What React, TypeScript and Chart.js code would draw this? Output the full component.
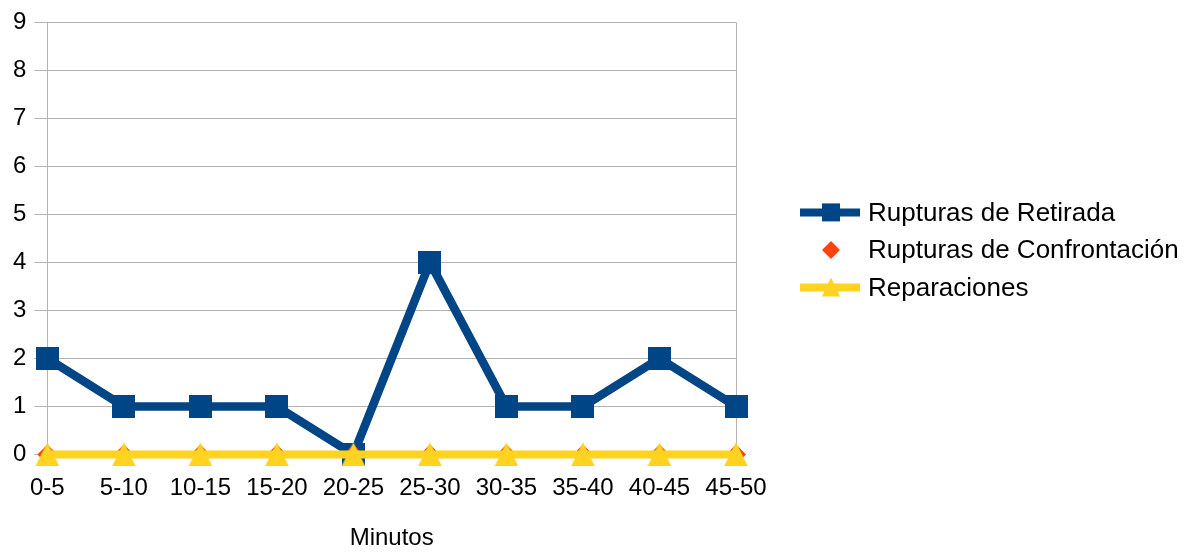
import React, { useEffect, useRef } from 'react';
import { Chart, registerables } from 'chart.js';

Chart.register(...registerables);

const categories = ['0-5', '5-10', '10-15', '15-20', '20-25', '25-30', '30-35', '35-40', '40-45', '45-50'];
const retirada = [2, 1, 1, 1, 0, 4, 1, 1, 2, 1];
const confrontacion = [0, 0, 0, 0, 0, 0, 0, 0, 0, 0];
const reparaciones = [0, 0, 0, 0, 0, 0, 0, 0, 0, 0];
const seriesNames = ['Rupturas de Retirada', 'Rupturas de Confrontación', 'Reparaciones'];
const seriesColors = ['#004586', '#ff420e', '#ffd320'];
const yMin = 0;
const yMax = 9;
const yStep = 1;
const xTitle = 'Minutos';

const FONT = '"Liberation Sans", Arial, sans-serif';
const GRID = '#b3b3b3';

function makeTriangle(size: number, color: string) {
  const c = document.createElement('canvas');
  c.width = size;
  c.height = size;
  const g = c.getContext('2d')!;
  g.fillStyle = color;
  g.beginPath();
  g.moveTo(size / 2, 0);
  g.lineTo(size, size);
  g.lineTo(0, size);
  g.closePath();
  g.fill();
  return c;
}

function makeSquare(size: number, color: string) {
  const c = document.createElement('canvas');
  c.width = size;
  c.height = size;
  const g = c.getContext('2d')!;
  g.fillStyle = color;
  g.fillRect(0, 0, size, size);
  return c;
}

const legendPlugin = {
  id: 'customLegend',
  afterDraw(chart: any) {
    const ctx: CanvasRenderingContext2D = chart.ctx;
    const { right, top } = chart.chartArea;
    const x0 = right + 64;
    const lineW = 60;
    const cx = x0 + lineW / 2 + 1;
    const textX = x0 + 68;
    const rows = [top + 190, top + 227.5, top + 265];
    ctx.save();
    rows.forEach((y, i) => {
      const color = seriesColors[i];
      ctx.fillStyle = color;
      ctx.strokeStyle = color;
      if (i !== 1) {
        ctx.lineWidth = 8;
        ctx.beginPath();
        ctx.moveTo(x0, y);
        ctx.lineTo(x0 + lineW, y);
        ctx.stroke();
      }
      ctx.beginPath();
      if (i === 0) {
        ctx.rect(cx - 9, y - 9, 18, 18);
      } else if (i === 1) {
        ctx.moveTo(cx, y - 9);
        ctx.lineTo(cx + 9, y);
        ctx.lineTo(cx, y + 9);
        ctx.lineTo(cx - 9, y);
        ctx.closePath();
      } else {
        ctx.moveTo(cx, y - 10);
        ctx.lineTo(cx + 9, y + 9);
        ctx.lineTo(cx - 9, y + 9);
        ctx.closePath();
      }
      ctx.fill();
      ctx.fillStyle = '#000';
      ctx.font = `26px ${FONT}`;
      ctx.textAlign = 'left';
      ctx.textBaseline = 'middle';
      ctx.fillText(seriesNames[i], textX, y + 1);
    });
    ctx.restore();
  },
};

export default function App() {
  const canvasRef = useRef<HTMLCanvasElement | null>(null);

  useEffect(() => {
    if (!canvasRef.current) return;
    const tri = makeTriangle(24, seriesColors[2]);
    const sq = makeSquare(23, seriesColors[0]);
    const chart = new Chart(canvasRef.current, {
      type: 'line',
      data: {
        labels: categories,
        datasets: [
          {
            label: seriesNames[0],
            data: retirada,
            borderColor: seriesColors[0],
            backgroundColor: seriesColors[0],
            borderWidth: 8.5,
            pointStyle: sq as any,
            pointRadius: 12,
            tension: 0,
            clip: false as any,
            order: 2,
          },
          {
            label: seriesNames[1],
            data: confrontacion,
            borderColor: seriesColors[1],
            backgroundColor: seriesColors[1],
            showLine: false,
            pointStyle: 'rectRot',
            pointRadius: 10,
            pointBorderWidth: 0,
            pointBackgroundColor: seriesColors[1],
            clip: false as any,
            order: 1,
          },
          {
            label: seriesNames[2],
            data: reparaciones,
            borderColor: seriesColors[2],
            backgroundColor: seriesColors[2],
            borderWidth: 8,
            pointStyle: tri as any,
            pointRadius: 12,
            tension: 0,
            clip: false as any,
            order: 0,
          },
        ],
      },
      options: {
        responsive: false,
        animation: false,
        devicePixelRatio: 1,
        layout: { padding: { left: 5, right: 465, top: 22, bottom: 0 } },
        plugins: {
          legend: { display: false },
          tooltip: { enabled: false },
        },
        scales: {
          x: {
            type: 'category',
            offset: false,
            grid: {
              display: true,
              drawTicks: false,
              color: (ctx: any) => (ctx.index === categories.length - 1 ? GRID : 'rgba(0,0,0,0)'),
              lineWidth: 1,
            },
            border: { display: true, color: GRID },
            ticks: {
              color: '#000',
              font: { family: FONT, size: 24 },
              padding: 20,
              maxRotation: 0,
              autoSkip: false,
            },
            title: {
              display: true,
              text: xTitle,
              color: '#000',
              font: { family: FONT, size: 24 },
              padding: { top: 1, bottom: 1 },
            },
          },
          y: {
            min: yMin,
            max: yMax,
            grid: {
              color: GRID,
              lineWidth: 1,
              drawTicks: true,
              tickLength: 13,
            },
            border: { display: true, color: GRID },
            ticks: {
              stepSize: yStep,
              color: '#000',
              font: { family: FONT, size: 24 },
              padding: 8,
            },
          },
        },
      },
      plugins: [legendPlugin],
    });
    return () => chart.destroy();
  }, []);

  return (
    <div style={{ position: 'absolute', left: 0, top: 0, width: 1201, height: 554, background: '#fff' }}>
      <canvas ref={canvasRef} width={1201} height={554} style={{ display: 'block' }} />
    </div>
  );
}
